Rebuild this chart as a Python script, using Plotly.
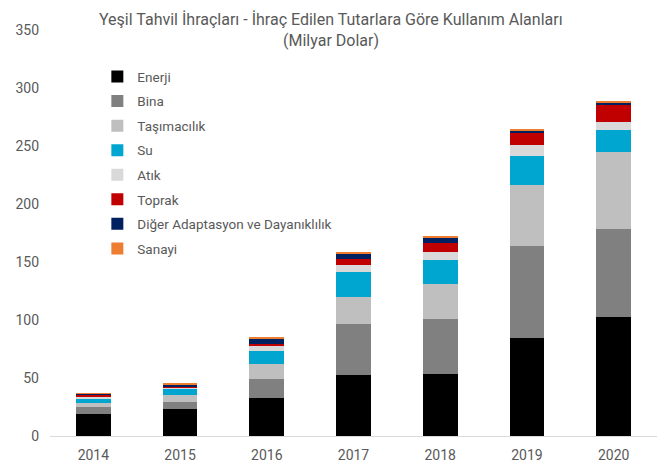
import plotly.graph_objects as go

years = ["2014", "2015", "2016", "2017", "2018", "2019", "2020"]
enerji = [18.7, 23.6, 33.0, 52.6, 53.8, 84.2, 102.6]
bina = [6.6, 6.0, 16.5, 44.3, 46.8, 79.6, 75.6]
tasimacilik = [3.5, 6.1, 12.9, 23.1, 30.8, 52.9, 67.0]
su = [3.7, 5.1, 10.9, 21.0, 20.3, 24.7, 18.8]
atik = [1.5, 1.0, 4.7, 6.8, 7.3, 9.5, 6.7]
toprak = [1.7, 1.2, 1.0, 5.1, 7.0, 10.1, 14.6]
diger = [0.8, 1.3, 5.0, 4.3, 5.0, 2.3, 2.1]
sanayi = [0.3, 0.7, 1.0, 0.8, 1.0, 1.7, 1.1]

title_line1 = "Yeşil Tahvil İhraçları - İhraç Edilen Tutarlara Göre Kullanım Alanları"
title_line2 = "(Milyar Dolar)"

series = [
    ("Enerji", enerji, "#000000"),
    ("Bina", bina, "#808080"),
    ("Taşımacılık", tasimacilik, "#bfbfbf"),
    ("Su", su, "#00a6d0"),
    ("Atık", atik, "#d9d9d9"),
    ("Toprak", toprak, "#c00000"),
    ("Diğer Adaptasyon ve Dayanıklılık", diger, "#002060"),
    ("Sanayi", sanayi, "#ed7d31"),
]

FONT = "Liberation Sans Narrow, Arial Narrow, Roboto, sans-serif"
GREY = "#595959"

fig = go.Figure()
for i, (name, vals, col) in enumerate(series):
    fig.add_trace(go.Bar(x=years, y=vals, name=name, marker_color=col,
                         marker_line_width=0, legendgroup=str(i)))

fig.update_layout(
    barmode="stack",
    bargap=0.6,
    width=664, height=465,
    margin=dict(l=42, r=15, t=22, b=37, autoexpand=False),
    paper_bgcolor="white", plot_bgcolor="white",
    font=dict(family=FONT, size=13, color=GREY),
    legend=dict(x=0.078, y=0.923, xanchor="left", yanchor="top",
                traceorder="grouped", tracegroupgap=4,
                font=dict(family=FONT, size=13.5, color=GREY),
                bgcolor="rgba(0,0,0,0)"),
    xaxis=dict(showline=True, linecolor="#d9d9d9", linewidth=1, ticks="",
               showgrid=False, automargin=False, ticklabelstandoff=6,
               tickfont=dict(size=14, color=GREY)),
    yaxis=dict(range=[0, 350], dtick=50, showgrid=False, showline=False,
               zeroline=False, ticks="", automargin=False, ticklabelstandoff=10,
               tickfont=dict(size=14, color=GREY)),
    annotations=[
        dict(text=title_line1, xref="paper", yref="paper", x=0.463, y=1.053,
             xanchor="center", yanchor="top", showarrow=False,
             font=dict(family=FONT, size=16, color=GREY)),
        dict(text=title_line2, xref="paper", yref="paper", x=0.463, y=0.975,
             xanchor="center", yanchor="middle", showarrow=False,
             font=dict(family=FONT, size=16, color=GREY)),
    ],
)

fig.write_html("out.html")
